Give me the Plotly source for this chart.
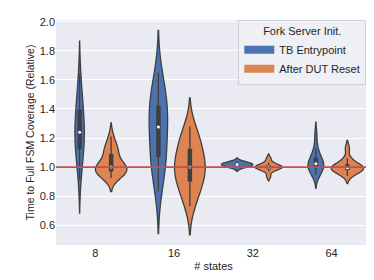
import numpy as np
import plotly.graph_objects as go

categories = ["8", "16", "32", "64"]
hues = ["TB Entrypoint", "After DUT Reset"]

tb_entry = {
    "8": [0.91, 1.02, 1.08, 1.10, 1.15, 1.20, 1.23, 1.24, 1.27, 1.32, 1.38, 1.41, 1.45, 1.52, 1.64],
    "16": [0.832, 0.95, 1.02, 1.06, 1.10, 1.18, 1.25, 1.30, 1.34, 1.40, 1.43, 1.48, 1.55, 1.65],
    "32": [0.995, 1.0, 1.005, 1.01, 1.012, 1.015, 1.018, 1.02, 1.022, 1.025, 1.03, 1.035, 1.04],
    "64": [0.945, 0.96, 0.975, 0.99, 1.0, 1.01, 1.02, 1.025, 1.03, 1.05, 1.07, 1.09, 1.13, 1.22],
}
after_reset = {
    "8": [0.925, 0.94, 0.95, 0.96, 0.97, 0.98, 0.99, 1.0, 1.0, 1.01, 1.02, 1.05, 1.09, 1.11, 1.13, 1.15, 1.21],
    "16": [0.73, 0.80, 0.86, 0.88, 0.92, 0.96, 0.99, 1.0, 1.02, 1.06, 1.10, 1.15, 1.17, 1.22, 1.28],
    "32": [0.935, 0.97, 0.985, 0.99, 0.995, 1.0, 1.0, 1.005, 1.01, 1.02, 1.03, 1.06],
    "64": [0.94, 0.96, 0.97, 0.98, 0.985, 0.99, 0.995, 1.0, 1.01, 1.02, 1.03, 1.06, 1.13],
}
series = [tb_entry, after_reset]

# styling (per violin KDE bandwidth and drawn width, in data units)
bandwidths = [[0.113, 0.145, 0.012, 0.045], [0.047, 0.098, 0.015, 0.027]]
widths = [[0.12, 0.235, 0.40, 0.20], [0.40, 0.39, 0.34, 0.41]]
colors = ["#4C72B0", "#DD8452"]
offsets = [-0.2, 0.2]
edge = "#3f3f3f"

fig = go.Figure()
for h, hue in enumerate(hues):
    for c, cat in enumerate(categories):
        vals = series[h][cat]
        fig.add_trace(go.Violin(
            y=vals, x0=c + offsets[h], name=hue, legendgroup=hue,
            scalegroup=f"g{h}_{c}",
            showlegend=False, width=widths[h][c], bandwidth=bandwidths[h][c],
            scalemode="width", spanmode="soft", points=False,
            fillcolor=colors[h], line=dict(color=edge, width=1.3), opacity=1,
            box_visible=False, meanline_visible=False, hoverinfo="skip",
        ))

# inner box (seaborn style)
for h, hue in enumerate(hues):
    for c, cat in enumerate(categories):
        vals = np.array(series[h][cat])
        q1, med, q3 = np.percentile(vals, [25, 50, 75])
        iqr = q3 - q1
        lo = vals[vals >= q1 - 1.5 * iqr].min()
        hi = vals[vals <= q3 + 1.5 * iqr].max()
        xp = c + offsets[h]
        fig.add_trace(go.Scatter(x=[xp, xp], y=[lo, hi], mode="lines",
                                 line=dict(color=edge, width=1.3), showlegend=False, hoverinfo="skip"))
        fig.add_trace(go.Scatter(x=[xp, xp], y=[q1, q3], mode="lines",
                                 line=dict(color=edge, width=4.5), showlegend=False, hoverinfo="skip"))
        fig.add_trace(go.Scatter(x=[xp], y=[med], mode="markers",
                                 marker=dict(color="white", size=3), showlegend=False, hoverinfo="skip"))

# legend proxies (wide rectangular patches)
for h, hue in enumerate(hues):
    fig.add_trace(go.Scatter(x=[None], y=[None], mode="lines", name=hue, legendgroup=hue,
                             line=dict(color=colors[h], width=8), showlegend=True))

fig.add_shape(type="line", xref="paper", x0=0, x1=1, yref="y", y0=1.0, y1=1.0,
              line=dict(color="#C44E52", width=1.6), layer="above")

font = "Liberation Sans, Arial, sans-serif"
fig.update_layout(
    width=374, height=280,
    margin=dict(l=48, r=11, t=12, b=43, autoexpand=False),
    paper_bgcolor="white", plot_bgcolor="#EAEAF2",
    violinmode="overlay",
    font=dict(family=font, size=11, color="#262626"),
    xaxis=dict(range=[-0.5, 3.5], tickmode="array", tickvals=list(range(len(categories))),
               ticktext=categories, showgrid=False, zeroline=False, ticks="", automargin=False,
               title=dict(text="# states", font=dict(size=11), standoff=4),
               tickfont=dict(size=11)),
    yaxis=dict(range=[0.464, 2.012], tickmode="array", automargin=False,
               tickvals=[0.6, 0.8, 1.0, 1.2, 1.4, 1.6, 1.8, 2.0],
               ticktext=["0.6", "0.8", "1.0", "1.2", "1.4", "1.6", "1.8", "2.0"],
               showgrid=True, gridcolor="white", gridwidth=1, zeroline=False, ticks="",
               title=dict(text="Time to Full FSM Coverage (Relative)", font=dict(size=10.5), standoff=3),
               tickfont=dict(size=11)),
    legend=dict(x=0.985, y=1.0, xanchor="right", yanchor="top",
                bgcolor="rgba(240,240,246,0.9)", bordercolor="#d0d0d8", borderwidth=1,
                title=dict(text="Fork Server Init.", side="top center", font=dict(size=11)),
                font=dict(size=11), tracegroupgap=0, itemwidth=30),
    showlegend=True,
)

fig.write_html("out.html")
